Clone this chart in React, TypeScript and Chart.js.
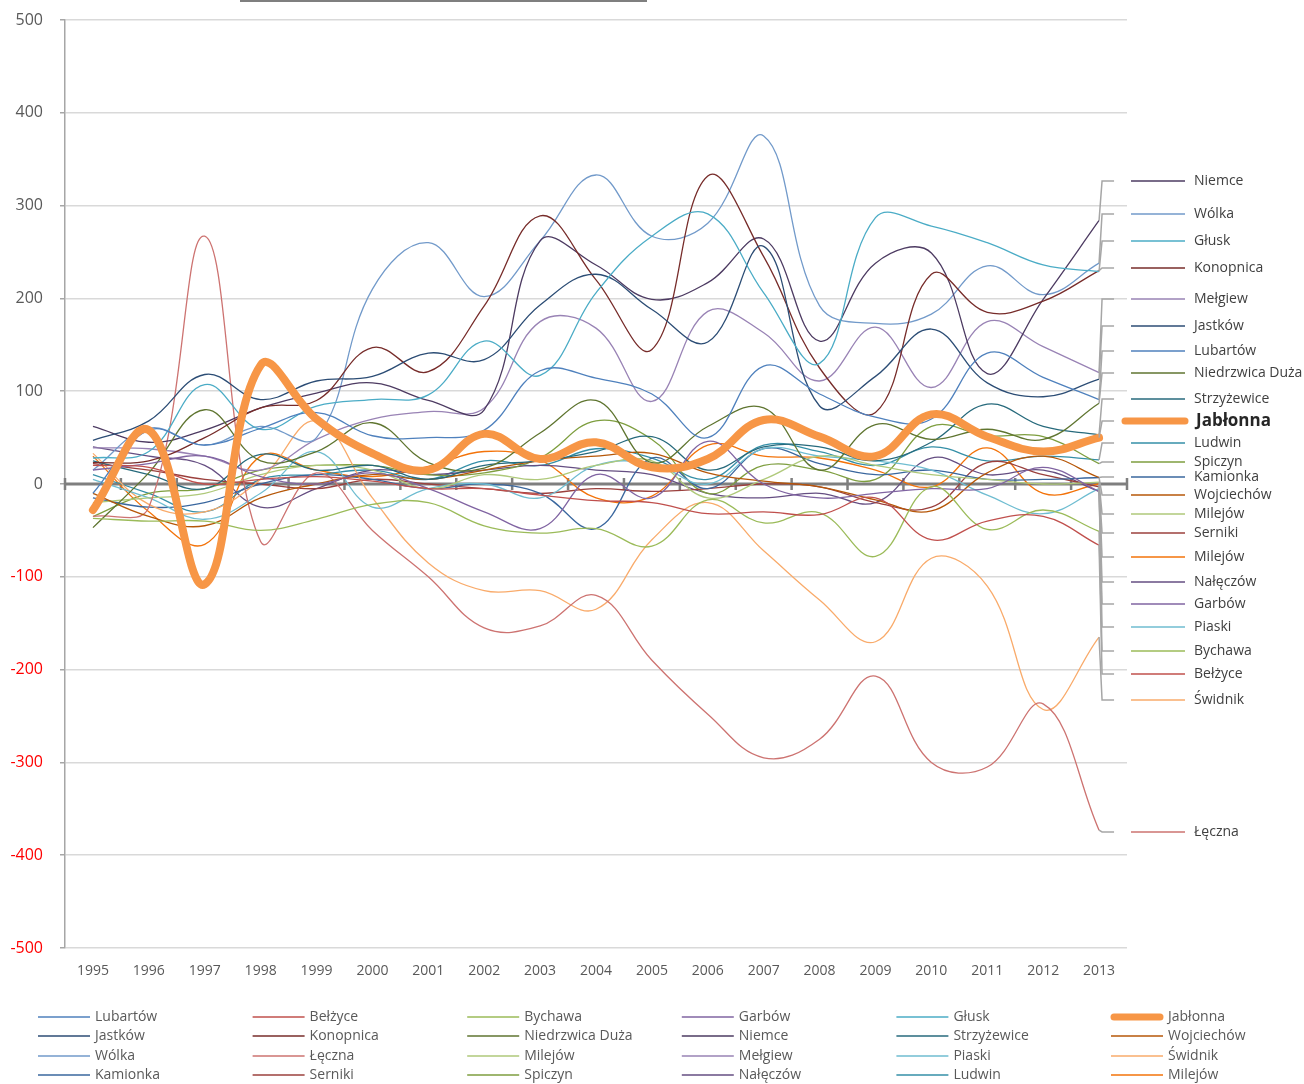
import React, { useEffect, useRef } from "react";
import { Chart, registerables } from "chart.js";
Chart.register(...registerables);

const YEARS = ["1995","1996","1997","1998","1999","2000","2001","2002","2003","2004","2005","2006","2007","2008","2009","2010","2011","2012","2013"];

// Series in legend order (row-major)
const NAMES = [
  "Lubartów","Bełżyce","Bychawa","Garbów","Głusk","Jabłonna",
  "Jastków","Konopnica","Niedrzwica Duża","Niemce","Strzyżewice","Wojciechów",
  "Wólka","Łęczna","Milejów","Mełgiew","Piaski","Świdnik",
  "Kamionka","Serniki","Spiczyn","Nałęczów","Ludwin","Milejów",
];

const COLORS = [
  "#4F81BD","#C0504D","#9BBB59","#8064A2","#4BACC6","#F79646",
  "#2C4D75","#772C2A","#5F7530","#4D3B62","#276A7C","#B65708",
  "#729ACA","#CD7371","#AFC97A","#9983B5","#6FBDD1","#F9AB6B",
  "#3A679E","#9B403D","#7E9E3F","#654E82","#358FA7","#F3730A",
];

const LUBARTOW = [-10, 58, 42, 60, 77, 52, 50, 58, 122, 114, 97, 50, 127, 97, 72, 70, 141, 115, 91];
const BELZYCE = [20, 18, 0, 5, 8, 3, -5, -5, -12, -18, -20, -32, -30, -33, -15, -60, -40, -35, -66];
const BYCHAWA = [-37, -40, -40, -50, -38, -22, -20, -45, -53, -48, -67, -17, -42, -31, -78, -3, -49, -28, -51];
const GARBOW = [15, 22, 30, 8, 0, 12, -5, -30, -48, 10, -15, 46, 0, -15, -10, -5, -5, 18, -8];
const GLUSK = [28, 35, 107, 59, 84, 91, 96, 154, 117, 206, 267, 291, 206, 130, 287, 278, 260, 236, 229];
const JABLONNA = [-28, 58, -108, 128, 70, 33, 15, 54, 27, 45, 18, 27, 69, 51, 30, 75, 51, 35, 50];
const JASTKOW = [47, 68, 118, 91, 111, 116, 141, 134, 193, 226, 188, 153, 256, 84, 116, 167, 109, 94, 113];
const KONOPNICA = [23, 25, 50, 82, 90, 147, 121, 192, 289, 220, 145, 332, 245, 125, 77, 226, 185, 197, 230];
const NIEDRZWICA = [-47, 12, 80, 25, 35, 66, 23, 17, 55, 90, 23, 62, 82, 15, 64, 48, 59, 48, 87];
const NIEMCE = [62, 45, 58, 82, 98, 109, 90, 80, 262, 236, 199, 217, 264, 154, 238, 249, 119, 199, 284];
const STRZYZEWICE = [25, 10, -5, 32, 15, 20, 5, 20, 25, 35, 51, 15, 40, 40, 25, 45, 86, 62, 53];
const WOJCIECHOW = [-10, -35, -45, -15, 0, 10, 5, 15, 25, 30, 33, 12, 3, -3, -17, -29, 12, 30, 7];
const WOLKA = [15, 60, 42, 62, 50, 210, 260, 202, 262, 333, 267, 281, 375, 192, 173, 183, 235, 204, 238];
const LECZNA = [-35, -25, 267, -62, 12, -50, -100, -155, -153, -120, -190, -248, -295, -275, -207, -300, -305, -237, -373];
const MILEJOW_A = [-20, -15, -10, 10, 20, 15, -5, 10, 5, 20, 25, -15, 5, 30, 20, 10, 5, 0, 2];
const MELGIEW = [39, 38, 30, 15, 48, 70, 78, 82, 175, 168, 89, 186, 163, 111, 169, 104, 175, 148, 120];
const PIASKI = [5, -15, -38, -10, 35, -25, -5, 0, -15, 20, 22, 0, 38, 30, 25, 15, -12, -32, -5];
const SWIDNIK = [33, -22, -30, 5, 68, -15, -85, -115, -115, -135, -60, -20, -72, -125, -170, -80, -110, -243, -165];
const KAMIONKA = [-15, -25, -20, 0, 10, 5, -5, 0, -10, -48, 28, -5, 38, 22, 10, 15, 5, 5, 7];
const SERNIKI = [22, 15, 5, 0, -5, 5, 0, -5, -10, -5, -8, -5, 0, -3, -20, -25, 23, 10, -3];
const SPICZYN = [-35, -10, -5, 15, 20, 20, 10, 12, 28, 68, 48, -10, 20, 15, 5, 62, 52, 51, 22];
const NALECZOW = [40, 30, 20, -25, -5, 15, 10, 15, 20, 15, 10, -10, -15, -10, -20, 28, 10, 15, -8];
const LUDWIN = [10, -10, -30, 5, 10, 15, 5, 25, 20, 38, 28, 5, 42, 35, 20, 40, 25, 30, 26];
const MILEJOW_B = [30, -30, -65, 30, 15, 8, 19, 35, 26, -15, -13, 42, 30, 28, 15, -3, 39, -10, 0];

const SERIES = [
  LUBARTOW, BELZYCE, BYCHAWA, GARBOW, GLUSK, JABLONNA,
  JASTKOW, KONOPNICA, NIEDRZWICA, NIEMCE, STRZYZEWICE, WOJCIECHOW,
  WOLKA, LECZNA, MILEJOW_A, MELGIEW, PIASKI, SWIDNIK,
  KAMIONKA, SERNIKI, SPICZYN, NALECZOW, LUDWIN, MILEJOW_B,
];

const HIGHLIGHT = 5;
const Y_TICKS = [-500, -400, -300, -200, -100, 0, 100, 200, 300, 400, 500];

// right-hand label layout (series index, label pixel y)
const LABEL_ORDER = [9, 12, 4, 7, 15, 6, 0, 8, 10, 5, 22, 20, 18, 11, 14, 19, 23, 21, 3, 16, 2, 1, 17, 13];
const LABEL_Y = [181, 214, 241, 268, 299, 326, 351, 373, 399, 421, 443, 462, 477, 495, 514, 533, 557, 582, 604, 627, 651, 674, 700, 832];

const FONT = '"Open Sans", "DejaVu Sans", sans-serif';

const decorPlugin = {
  id: "decor",
  beforeDatasetsDraw(chart: any) {
    const { ctx, chartArea, scales } = chart;
    const y0 = scales.y.getPixelForValue(0);
    ctx.save();
    // y tick labels
    ctx.font = `16px ${FONT}`;
    ctx.textAlign = "right";
    ctx.textBaseline = "middle";
    Y_TICKS.forEach((v) => {
      ctx.fillStyle = v < 0 ? "#FF0000" : "#595959";
      ctx.fillText(String(v), chartArea.left - 22, scales.y.getPixelForValue(v));
    });
    // zero axis with category tick marks
    ctx.strokeStyle = "#7F7F7F";
    ctx.lineWidth = 3;
    ctx.beginPath();
    ctx.moveTo(chartArea.left, y0);
    ctx.lineTo(chartArea.right, y0);
    ctx.stroke();
    ctx.lineWidth = 2.5;
    const n = YEARS.length;
    const step = (chartArea.right - chartArea.left) / n;
    for (let k = 0; k <= n; k++) {
      const x = chartArea.left + step * k;
      ctx.beginPath();
      ctx.moveTo(x, y0 - 6);
      ctx.lineTo(x, y0 + 6);
      ctx.stroke();
    }
    ctx.restore();
  },
  afterDatasetsDraw(chart: any) {
    const { ctx, scales } = chart;
    const xe = scales.x.getPixelForValue(YEARS.length - 1);
    ctx.save();
    // leader lines
    ctx.strokeStyle = "#A6A6A6";
    ctx.lineWidth = 1.5;
    LABEL_ORDER.forEach((s, k) => {
      const vals = SERIES[s];
      const ye = scales.y.getPixelForValue(vals[vals.length - 1]);
      const yl = LABEL_Y[k];
      ctx.beginPath();
      ctx.moveTo(xe, ye);
      ctx.lineTo(xe + 3, yl);
      ctx.lineTo(xe + 15, yl);
      ctx.stroke();
    });
    // label swatches and texts
    LABEL_ORDER.forEach((s, k) => {
      const yl = LABEL_Y[k];
      const hl = s === HIGHLIGHT;
      ctx.strokeStyle = COLORS[s];
      ctx.lineWidth = hl ? 7 : 1.5;
      ctx.lineCap = hl ? "round" : "butt";
      ctx.beginPath();
      ctx.moveTo(hl ? 1125 : 1131, yl);
      ctx.lineTo(1185, yl);
      ctx.stroke();
      ctx.fillStyle = hl ? "#262626" : "#404040";
      ctx.font = hl ? `bold 17px ${FONT}` : `14px ${FONT}`;
      ctx.textBaseline = "middle";
      ctx.textAlign = "left";
      ctx.fillText(NAMES[s], hl ? 1196 : 1194, yl);
    });
    ctx.restore();
  },
  afterDraw(chart: any) {
    const { ctx } = chart;
    ctx.save();
    // title box remnant at top
    ctx.fillStyle = "#7F7F7F";
    ctx.fillRect(240, 0, 407, 2);
    // bottom legend
    const rowsY = [1017, 1036, 1056, 1075];
    NAMES.forEach((name, i) => {
      const col = i % 6;
      const row = Math.floor(i / 6);
      const x = 38 + 214.6 * col;
      const y = rowsY[row];
      const hl = i === HIGHLIGHT;
      ctx.strokeStyle = COLORS[i];
      ctx.lineWidth = hl ? 7 : 1.5;
      ctx.lineCap = hl ? "round" : "butt";
      ctx.beginPath();
      ctx.moveTo(x + (hl ? 3 : 0), y);
      ctx.lineTo(x + 52 - (hl ? 3 : 0), y);
      ctx.stroke();
      ctx.fillStyle = "#595959";
      ctx.font = `14px ${FONT}`;
      ctx.textBaseline = "middle";
      ctx.textAlign = "left";
      ctx.fillText(name, x + 57, y);
    });
    ctx.restore();
  },
};

export default function App() {
  const ref = useRef<HTMLCanvasElement>(null);
  useEffect(() => {
    const canvas = ref.current!;
    const datasets = SERIES.map((vals, i) => ({
      label: NAMES[i],
      data: vals,
      borderColor: COLORS[i],
      backgroundColor: COLORS[i],
      borderWidth: i === HIGHLIGHT ? 8 : 1.3,
      pointRadius: 0,
      pointHoverRadius: 0,
      tension: 0.4,
      fill: false,
      order: i === HIGHLIGHT ? 0 : 1,
      borderCapStyle: i === HIGHLIGHT ? "round" : "butt",
      borderJoinStyle: "round",
    }));
    const chart = new Chart(canvas, {
      type: "line",
      data: { labels: YEARS, datasets: datasets as any },
      options: {
        responsive: false,
        animation: false,
        devicePixelRatio: 1,
        layout: { padding: { top: 20, right: 177, left: 0, bottom: 0 } },
        plugins: { legend: { display: false }, tooltip: { enabled: false }, title: { display: false } },
        scales: {
          x: {
            type: "category",
            offset: true,
            grid: { display: false },
            border: { display: false },
            ticks: {
              color: "#595959",
              font: { family: FONT, size: 14 },
              padding: 7,
              maxRotation: 0,
              autoSkip: false,
            },
            afterFit: (scale: any) => { scale.height = 136; },
          },
          y: {
            min: -500,
            max: 500,
            afterBuildTicks: (scale: any) => { scale.ticks = Y_TICKS.map((v) => ({ value: v })); },
            ticks: { display: false },
            grid: { color: "#D9D9D9", lineWidth: 1.5, tickLength: 5, tickColor: "#A6A6A6", drawTicks: true },
            border: { display: true, color: "#A6A6A6", width: 1.5 },
            afterFit: (scale: any) => { scale.width = 65; },
          },
        },
      },
      plugins: [decorPlugin],
    });
    return () => chart.destroy();
  }, []);
  return (
    <div style={{ position: "absolute", left: 0, top: 0, width: 1304, height: 1084, background: "#fff", overflow: "hidden" }}>
      <canvas ref={ref} width={1304} height={1084} style={{ display: "block", width: 1304, height: 1084 }} />
    </div>
  );
}
